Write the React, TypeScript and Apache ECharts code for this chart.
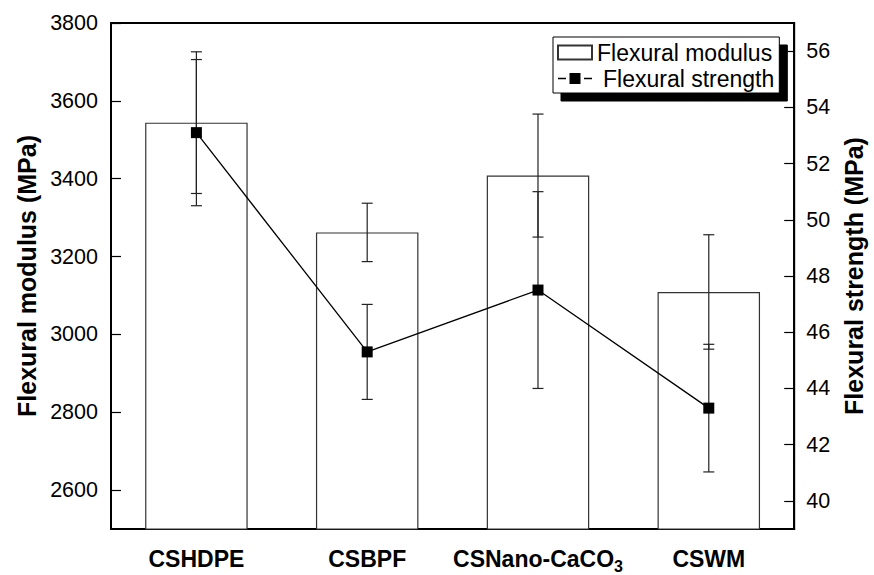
import React, { useEffect, useRef } from "react";
import * as echarts from "echarts";

const categories = ["CSHDPE", "CSBPF", "CSNano-CaCO3", "CSWM"];
const modulus = [3544, 3262, 3408, 3109];
const modulusErr = [182, 75, 158, 147];
const strength = [53.1, 45.3, 47.5, 43.3];
const strengthErr = [2.6, 1.69, 3.5, 2.27];
const leftTicks = [2600, 2800, 3000, 3200, 3400, 3600, 3800];
const rightTicks = [40, 42, 44, 46, 48, 50, 52, 54, 56];

const FONT = "'Liberation Sans', Arial, sans-serif";
const LINE_ICON =
  "path://M0,0h0.01v0.01h-0.01z M33.99,13.99h0.01v0.01h-0.01z M0,6.3h8v1.5h-8z M11.5,1.5h11v11h-11z M26,6.3h8v1.5h-8z";

function errorSeries(name: string, vals: number[], errs: number[], yAxisIndex: number) {
  return {
    name,
    type: "custom",
    yAxisIndex,
    z: 3,
    data: vals.map((v, i) => [i, v, errs[i]]),
    renderItem: (params: any, api: any) => {
      const x = api.value(0);
      const v = api.value(1);
      const e = api.value(2);
      const top = api.coord([x, v + e]);
      const bot = api.coord([x, v - e]);
      const hw = 5.5;
      const style = { stroke: "#222", lineWidth: 1.2 };
      return {
        type: "group",
        children: [
          { type: "line", shape: { x1: top[0], y1: top[1], x2: bot[0], y2: bot[1] }, style },
          { type: "line", shape: { x1: top[0] - hw, y1: top[1], x2: top[0] + hw, y2: top[1] }, style },
          { type: "line", shape: { x1: bot[0] - hw, y1: bot[1], x2: bot[0] + hw, y2: bot[1] }, style },
        ],
      };
    },
  };
}

export default function App() {
  const ref = useRef<HTMLDivElement>(null);
  useEffect(() => {
    document.body.style.margin = "0";
    const chart = echarts.init(ref.current!, null, { renderer: "svg" });
    chart.setOption({
      animation: false,
      textStyle: { fontFamily: FONT },
      grid: {
        left: 111,
        right: 69,
        top: 23,
        bottom: 46,
        show: true,
        borderColor: "#000",
        borderWidth: 2,
        backgroundColor: "transparent",
      },
      legend: {
        orient: "vertical",
        left: 553,
        top: 37,
        data: [
          { name: "Flexural modulus", icon: "rect" },
          { name: "Flexural strength", icon: LINE_ICON, textStyle: { padding: [0, 0, 0, 6] } },
        ],
        itemWidth: 34,
        itemHeight: 14,
        itemGap: 3,
        padding: [4, 5, 3, 4],
        backgroundColor: "#fff",
        borderColor: "#000",
        borderWidth: 1,
        shadowColor: "#000",
        shadowBlur: 0,
        shadowOffsetX: 8,
        shadowOffsetY: 8,
        textStyle: { fontSize: 23, color: "#000", fontFamily: FONT },
      },
      xAxis: {
        type: "category",
        data: categories,
        axisLine: { lineStyle: { color: "#000", width: 2 } },
        axisTick: { inside: true, length: 10, alignWithLabel: true, lineStyle: { color: "#000", width: 1.2 } },
        axisLabel: {
          margin: 15,
          color: "#000",
          formatter: (v: string) => (v === "CSNano-CaCO3" ? "{a|CSNano-CaCO}{s|3}" : "{a|" + v + "}"),
          rich: {
            a: { fontSize: 23, fontWeight: "bold", fontFamily: FONT, color: "#000", lineHeight: 30, verticalAlign: "middle" },
            s: { fontSize: 16, fontWeight: "bold", fontFamily: FONT, color: "#000", lineHeight: 16, verticalAlign: "bottom" },
          },
        },
      },
      yAxis: [
        {
          type: "value",
          min: 2500,
          max: 3800,
          position: "left",
          name: "Flexural modulus (MPa)",
          nameLocation: "middle",
          nameRotate: 90,
          nameGap: 72,
          nameTextStyle: { fontSize: 25, fontWeight: "bold", color: "#000", fontFamily: FONT },
          axisLine: { show: true, lineStyle: { color: "#000", width: 2 } },
          axisTick: { show: true, inside: true, length: 10, customValues: leftTicks, lineStyle: { color: "#000", width: 1.2 } },
          axisLabel: {
            customValues: leftTicks,
            formatter: (v: number) => String(v),
            fontSize: 21.5,
            color: "#000",
            margin: 13,
            fontFamily: FONT,
          },
          splitLine: { show: false },
        },
        {
          type: "value",
          min: 39,
          max: 57,
          position: "right",
          name: "Flexural strength (MPa)",
          nameLocation: "middle",
          nameRotate: 90,
          nameGap: 41,
          nameTextStyle: { fontSize: 25, fontWeight: "bold", color: "#000", fontFamily: FONT },
          axisLine: { show: true, lineStyle: { color: "#000", width: 2 } },
          axisTick: { show: true, inside: true, length: 10, customValues: rightTicks, lineStyle: { color: "#000", width: 1.2 } },
          axisLabel: {
            customValues: rightTicks,
            formatter: (v: number) => String(v),
            fontSize: 21.5,
            color: "#000",
            margin: 12,
            fontFamily: FONT,
          },
          splitLine: { show: false },
        },
      ],
      series: [
        {
          name: "Flexural modulus",
          type: "bar",
          yAxisIndex: 0,
          barWidth: "60%",
          z: 2,
          data: modulus,
          itemStyle: { color: "#fff", borderColor: "#333", borderWidth: 1.2 },
        },
        errorSeries("modErr", modulus, modulusErr, 0),
        errorSeries("strErr", strength, strengthErr, 1),
        {
          name: "Flexural strength",
          type: "line",
          yAxisIndex: 1,
          z: 4,
          data: strength,
          symbol: "rect",
          symbolSize: 11,
          itemStyle: { color: "#000" },
          lineStyle: { color: "#000", width: 1.3 },
        },
      ],
    });
    return () => chart.dispose();
  }, []);
  return <div ref={ref} style={{ width: 874, height: 575 }} />;
}
